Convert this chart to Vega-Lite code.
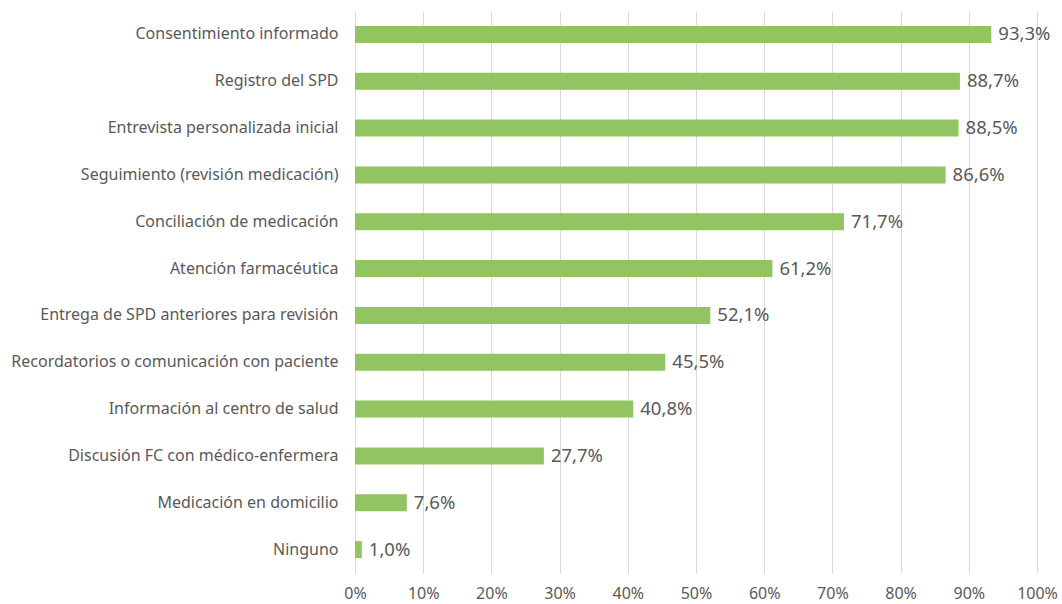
{
  "$schema": "https://vega.github.io/schema/vega-lite/v6.json",
  "autosize": "none",
  "width": 682,
  "height": 562,
  "padding": {"left": 355, "top": 11, "right": 25, "bottom": 31},
  "background": "white",
  "data": {
    "values": [
      {"categoria": "Consentimiento informado", "pct": 93.3},
      {"categoria": "Registro del SPD", "pct": 88.7},
      {"categoria": "Entrevista personalizada inicial", "pct": 88.5},
      {"categoria": "Seguimiento (revisión medicación)", "pct": 86.6},
      {"categoria": "Conciliación de medicación", "pct": 71.7},
      {"categoria": "Atención farmacéutica", "pct": 61.2},
      {"categoria": "Entrega de SPD anteriores para revisión", "pct": 52.1},
      {"categoria": "Recordatorios o comunicación con paciente", "pct": 45.5},
      {"categoria": "Información al centro de salud", "pct": 40.8},
      {"categoria": "Discusión FC con médico-enfermera", "pct": 27.7},
      {"categoria": "Medicación en domicilio", "pct": 7.6},
      {"categoria": "Ninguno", "pct": 1.0}
    ]
  },
  "transform": [
    {"calculate": "replace(format(datum.pct, '.1f'), '.', ',') + '%'", "as": "etiqueta"}
  ],
  "encoding": {
    "y": {
      "field": "categoria",
      "type": "nominal",
      "sort": null,
      "scale": {"paddingInner": 0.6, "paddingOuter": 0.3},
      "axis": {
        "title": null,
        "domain": false,
        "ticks": false,
        "labelPadding": 17,
        "labelFontSize": 16,
        "labelColor": "#595959",
        "labelFont": "Noto Sans",
        "labelLimit": 400
      }
    },
    "x": {
      "field": "pct",
      "type": "quantitative",
      "scale": {"domain": [0, 100]},
      "axis": {
        "title": null,
        "values": [0, 10, 20, 30, 40, 50, 60, 70, 80, 90, 100],
        "labelExpr": "datum.value + '%'",
        "labelFlush": false,
        "domain": false,
        "ticks": false,
        "grid": true,
        "gridColor": "#d9d9d9",
        "labelPadding": 12,
        "labelFontSize": 16,
        "labelColor": "#595959",
        "labelFont": "Noto Sans"
      }
    }
  },
  "layer": [
    {"mark": {"type": "bar", "color": "#92c562", "size": 17}},
    {
      "mark": {"type": "text", "align": "left", "baseline": "middle", "dx": 7, "fontSize": 18.5, "color": "#595959", "font": "Noto Sans"},
      "encoding": {"text": {"field": "etiqueta"}}
    }
  ],
  "config": {"view": {"stroke": null}}
}
